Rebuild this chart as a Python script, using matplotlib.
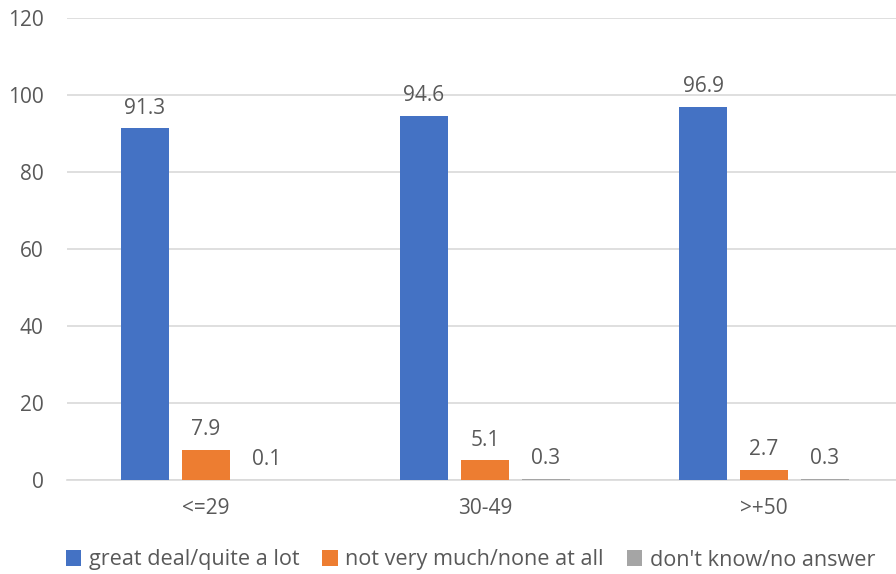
import matplotlib
matplotlib.use("Agg")
import matplotlib.pyplot as plt
import numpy as np

categories = ["<=29", "30-49", ">+50"]
series_names = ["great deal/quite a lot", "not very much/none at all", "don't know/no answer"]
great_deal = [91.3, 94.6, 96.9]
not_much = [7.9, 5.1, 2.7]
dont_know = [0.1, 0.3, 0.3]
colors = ["#4472C4", "#ED7D31", "#A5A5A5"]
yticks = [0, 20, 40, 60, 80, 100, 120]

plt.rcParams["font.family"] = ["Open Sans", "DejaVu Sans"]
text_color = "#595959"
fs = 15

fig = plt.figure(figsize=(8.96, 5.74), dpi=100)
ax = fig.add_axes([67 / 896, 94 / 574, (896 - 67) / 896, 462 / 574])

x = np.arange(len(categories))
width = 0.172
step = 0.2186
series = [great_deal, not_much, dont_know]
for i, (vals, name, col) in enumerate(zip(series, series_names, colors)):
    pos = x + (i - 1) * step
    bars = ax.bar(pos, vals, width, color=col, label=name, zorder=3)
    for b, v in zip(bars, vals):
        ax.annotate(f"{v}", (b.get_x() + b.get_width() / 2, v),
                    xytext=(0, 7), textcoords="offset points",
                    ha="center", va="bottom", fontsize=fs, color=text_color)

ax.set_xlim(-0.498, 2.473)
ax.set_ylim(0, 120)
ax.set_yticks(yticks)
ax.set_xticks(x)
ax.set_xticklabels(categories)
ax.grid(axis="y", color="#D9D9D9", linewidth=1.2, zorder=0)
for s in ["top", "right", "left"]:
    ax.spines[s].set_visible(False)
ax.spines["bottom"].set_color("#D9D9D9")
ax.spines["bottom"].set_linewidth(1.2)
ax.tick_params(axis="both", length=0, labelsize=fs, labelcolor=text_color)
ax.tick_params(axis="x", pad=13)
ax.tick_params(axis="y", pad=17)

fig.legend(loc="center left", bbox_to_anchor=(57 / 896, 1 - 560 / 574), ncol=3,
           frameon=False, fontsize=15.6, labelcolor=text_color, borderaxespad=0,
           handlelength=0.72, handleheight=0.72, handletextpad=0.35, columnspacing=1.05)

fig.savefig("out.png", dpi=100)
